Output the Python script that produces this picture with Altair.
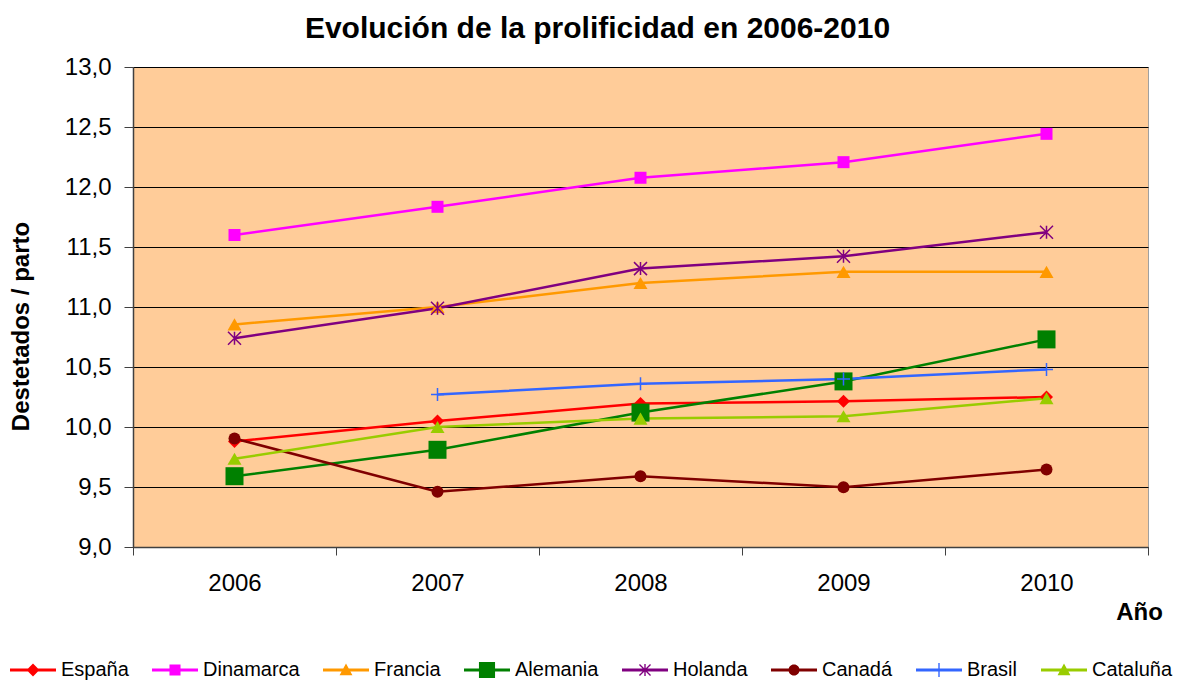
import math
import altair as alt
import pandas as pd

# ---------------- data ----------------
years = [2006, 2007, 2008, 2009, 2010]
series = ["España", "Dinamarca", "Francia", "Alemania", "Holanda", "Canadá", "Brasil", "Cataluña"]
colors = ["#FF0000", "#FF00FF", "#FF9900", "#008000", "#800080", "#800000", "#3366FF", "#99CC00"]

espana = [9.88, 10.05, 10.195, 10.215, 10.25]
dinamarca = [11.60, 11.835, 12.077, 12.207, 12.443]
francia = [10.855, 11.0, 11.20, 11.293, 11.293]
alemania = [9.59, 9.81, 10.12, 10.38, 10.73]
holanda = [10.74, 10.99, 11.32, 11.423, 11.623]
canada = [9.904, 9.46, 9.59, 9.498, 9.646]
brasil = [None, 10.27, 10.36, 10.40, 10.48]
cataluna = [9.735, 10.0, 10.07, 10.09, 10.24]

y_ticks = [9.0, 9.5, 10.0, 10.5, 11.0, 11.5, 12.0, 12.5, 13.0]
x_ticks = [2005.5, 2006, 2006.5, 2007, 2007.5, 2008, 2008.5, 2009, 2009.5, 2010, 2010.5]

values = [espana, dinamarca, francia, alemania, holanda, canada, brasil, cataluna]
rows = []
for s, vals in zip(series, values):
    for yr, v in zip(years, vals):
        if v is not None:
            rows.append({"Serie": s, "Anio": yr, "Valor": v})
df = pd.DataFrame(rows)

FONT = "Liberation Sans"

# ---------------- legend symbols (line + marker) ----------------
def poly(pts):
    n = len(pts)
    area = sum(pts[i][0] * pts[(i + 1) % n][1] - pts[(i + 1) % n][0] * pts[i][1] for i in range(n))
    if area < 0:
        pts = pts[::-1]
    return "M" + "L".join(f"{x:.3f},{y:.3f}" for x, y in pts) + "Z"


def seg(x1, y1, x2, y2, t):
    dx, dy = x2 - x1, y2 - y1
    L = math.hypot(dx, dy)
    nx, ny = -dy / L * t, dx / L * t
    return poly([(x1 + nx, y1 + ny), (x2 + nx, y2 + ny), (x2 - nx, y2 - ny), (x1 - nx, y1 - ny)])


base_line = seg(-1, 0, 1, 0, 0.06)


def diamond(r):
    return poly([(-r, 0), (0, -r), (r, 0), (0, r)])


def square(r):
    return poly([(-r, -r), (r, -r), (r, r), (-r, r)])


def triangle(r):
    return poly([(-r, r * 0.8), (0, -r), (r, r * 0.8)])


def circle(r):
    return poly([(r * math.cos(2 * math.pi * k / 28), r * math.sin(2 * math.pi * k / 28)) for k in range(28)])


def asterisk(r, t):
    return seg(-r, -r, r, r, t) + seg(-r, r, r, -r, t) + seg(0, -r * 1.1, 0, r * 1.1, t)


def plus(r, t):
    return seg(0, -r, 0, r, t) + seg(-r, 0, r, 0, t)


legend_shapes = [
    base_line + diamond(0.28),
    base_line + square(0.24),
    base_line + triangle(0.28),
    base_line + square(0.35),
    base_line + asterisk(0.24, 0.03),
    base_line + circle(0.24),
    base_line + plus(0.3, 0.03),
    base_line + triangle(0.28),
]

# ---------------- marker styles ----------------
marker_style = {
    "España": dict(shape="diamond", size=169, filled=True),
    "Dinamarca": dict(shape="square", size=144, filled=True),
    "Francia": dict(shape="triangle-up", size=196, filled=True),
    "Alemania": dict(shape="square", size=324, filled=True),
    "Holanda": dict(shape="M-1,-1L1,1M-1,1L1,-1M0,-1L0,1", size=169, filled=False, strokeWidth=1.5),
    "Canadá": dict(shape="circle", size=144, filled=True),
    "Brasil": dict(shape="M-1,0L1,0M0,-1L0,1", size=169, filled=False, strokeWidth=1.5),
    "Cataluña": dict(shape="triangle-up", size=196, filled=True),
}

x_enc = alt.X(
    "Anio:Q",
    scale=alt.Scale(domain=[2005.5, 2010.5], nice=False, zero=False),
    axis=alt.Axis(
        values=x_ticks,
        labelExpr="datum.value % 1 === 0 ? format(datum.value, 'd') : ''",
        tickOpacity={"condition": {"test": "datum.value % 1 === 0", "value": 0}, "value": 1},
        tickSize=8,
        tickColor="#404040",
        domainColor="#404040",
        domainWidth=1.5,
        labelPadding=16,
        labelFont=FONT,
        labelFontSize=24,
        labelColor="black",
        labelOverlap=False,
        labelFlush=False,
        grid=False,
        title="Año",
        titleFont=FONT,
        titleFontSize=24,
        titleFontWeight="bold",
        titleColor="black",
        titleX=1006,
        titleY=72,
        titleAlign="center",
        titleBaseline="alphabetic",
    ),
)

y_enc = alt.Y(
    "Valor:Q",
    scale=alt.Scale(domain=[9, 13], nice=False, zero=False),
    axis=alt.Axis(
        values=y_ticks,
        labelExpr="replace(format(datum.value, '.1f'), '.', ',')",
        tickSize=9,
        tickColor="#404040",
        domainColor="#404040",
        domainWidth=1.5,
        labelPadding=13,
        labelFont=FONT,
        labelFontSize=24,
        labelColor="black",
        grid=True,
        gridColor="black",
        gridWidth=1,
        gridOpacity=1,
        title="Destetados / parto",
        titleFont=FONT,
        titleFontSize=24,
        titleFontWeight="bold",
        titleColor="black",
        titleAngle=270,
        titleX=-112,
        titleY=259,
        titleAlign="center",
        titleBaseline="middle",
    ),
)

color_scale = alt.Scale(domain=series, range=colors)

base = alt.Chart(df)

line_layers = []
point_layers = []
for i, (s, c) in enumerate(zip(series, colors)):
    enc = dict(x=x_enc, y=y_enc) if i == 0 else dict(x=alt.X("Anio:Q"), y=alt.Y("Valor:Q"))
    line_layers.append(
        base.mark_line(color=c, strokeWidth=2.5).encode(**enc).transform_filter(alt.datum.Serie == s)
    )
    st = dict(marker_style[s])
    filled = st.pop("filled")
    if filled:
        mk = base.mark_point(filled=True, fill=c, opacity=1, strokeWidth=0, **st)
    else:
        mk = base.mark_point(filled=False, stroke=c, opacity=1, **st)
    point_layers.append(
        mk.encode(x=alt.X("Anio:Q"), y=alt.Y("Valor:Q")).transform_filter(alt.datum.Serie == s)
    )

legend_def = alt.Legend(
    title=None,
    orient="none",
    legendX=-123,
    legendY=580,
    direction="horizontal",
    columns=8,
    columnPadding=23,
    gridAlign="each",
    labelFont=FONT,
    labelFontSize=20,
    labelColor="black",
    labelOffset=5,
    labelLimit=0,
    symbolSize=2116,
    symbolStrokeWidth=0,
    symbolOpacity=1,
    padding=0,
)

legend_layer = base.mark_point(filled=True, size=2116, opacity=1, strokeWidth=0, clip=True).encode(
    x=alt.value(-3000),
    y=alt.value(-3000),
    color=alt.Color("Serie:N", scale=color_scale, legend=legend_def),
    shape=alt.Shape("Serie:N", scale=alt.Scale(domain=series, range=legend_shapes), legend=legend_def),
)

chart = alt.layer(*line_layers, *point_layers, legend_layer).properties(
    width=1015,
    height=480,
    title=alt.Title(
        "Evolución de la prolificidad en 2006-2010",
        font=FONT,
        fontSize=30,
        fontWeight="bold",
        color="black",
        anchor="middle",
        frame="group",
        dx=-43,
        offset=11,
    ),
    autosize=alt.AutoSizeParams(type="none"),
    padding={"left": 125, "top": 59, "right": 25, "bottom": 134},
).configure_view(
    fill="#FFCC99",
    stroke="#A0A0A0",
    strokeWidth=1,
)

chart.save("out.html", embed_options={"renderer": "svg", "actions": False})
